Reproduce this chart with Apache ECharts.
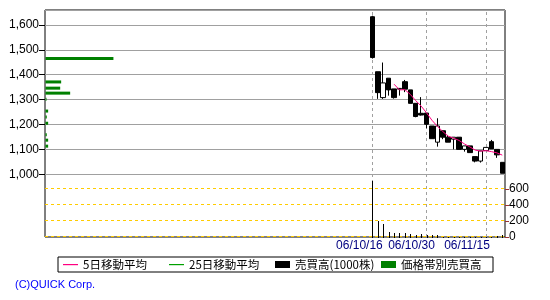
<!DOCTYPE html>
<html><head><meta charset="utf-8">
<script src="https://cdn.jsdelivr.net/npm/echarts@6/dist/echarts.min.js"></script>
<style>html,body{margin:0;padding:0;background:#fff}#c{width:550px;height:300px}</style>
</head><body><div id="c"></div>
<script>
// ---- data ----
const dates  = ['06/10/16','06/10/17','06/10/18','06/10/19','06/10/20','06/10/23','06/10/24','06/10/25','06/10/26','06/10/27',
                '06/10/30','06/10/31','06/11/01','06/11/02','06/11/06','06/11/07','06/11/08','06/11/09','06/11/10','06/11/13',
                '06/11/14','06/11/15','06/11/16','06/11/17','06/11/20'];
const opens  = [1633,1412,1308,1386,1343,1342,1372,1339,1285,1245,1246,1194,1129,1175,1149,1141,1149,1100,1114,1071,1053,1095,1131,1100,1048];
const closes = [1469,1328,1367,1339,1308,1345,1342,1285,1232,1238,1201,1143,1194,1149,1129,1149,1100,1114,1087,1053,1094,1108,1102,1078,1004];
const lows   = [1465,1303,1303,1316,1304,1316,1330,1285,1229,1236,1185,1143,1111,1141,1129,1100,1100,1091,1087,1048,1047,1095,1102,1066,1004];
const highs  = [1637,1412,1449,1386,1343,1346,1379,1339,1285,1310,1246,1194,1225,1175,1158,1149,1149,1114,1114,1071,1094,1108,1138,1100,1048];
const volumes = [694,200,165,58,45,45,45,32,24,32,20,24,24,6,6,4,6,4,4,6,4,6,6,8,24];
const ma5    = [null,null,null,null,1362,1339,1340,1321,1296,1274,1247,1217,1193,1172,1153,1145,1136,1122,1110,1097,1093,1095,1091,1086,1077];
const ma25   = [];
const bandPrices  = [1465,1371,1346,1326,1301,1254,1230,1205,1159,1137,1113];
const bandVolumes = [694,160,150,252,10,27,13,27,13,27,27];
const dateTicks   = ['06/10/16','06/10/30','06/11/15'];
const volumeGuides = [0,200,400,600];
const LEAD_SLOTS  = 60; // empty trading-day slots before the listing date

// ---- build ----
const cats = [];
for (let i = 0; i < LEAD_SLOTS; i++) cats.push('pre' + i);
const allCats = cats.concat(dates);

const candleData = dates.map((d, i) => [d, opens[i], closes[i], lows[i], highs[i]]);
const ma5Data = dates.map((d, i) => [d, ma5[i]]).filter(r => r[1] != null);
const volData = dates.map((d, i) => [d, volumes[i]]);
const bandData = bandPrices.map((p, i) => [bandVolumes[i], p]);
const guideData = volumeGuides.map(v => [allCats[0], v]);

const NARROW = "'Liberation Sans Narrow','Liberation Sans',sans-serif";
const CJK = "'Noto Sans CJK JP',sans-serif";
const labelShift = {'06/10/16':'a','06/10/30':'b','06/11/15':'c'};
const LINE_ICON = 'path://M0,0L0,0M0,3L15,3L15,4.2L0,4.2ZM15,7L15,7';

const chart = echarts.init(document.getElementById('c'), null, {renderer:'canvas', width:550, height:300});
chart.setOption({
  animation: false,
  backgroundColor: '#fff',
  grid: [
    {left:45, right:45, top:10, bottom:63, show:true, borderColor:'#000', borderWidth:1, backgroundColor:'transparent'},
    {left:45, right:45, top:10, height:164.3},
    {left:45, right:45, top:189, bottom:63}
  ],
  xAxis: [
    {gridIndex:0, type:'category', data:allCats, boundaryGap:true, show:false},
    {gridIndex:0, type:'value', min:0, max:4700, show:false},
    {gridIndex:1, type:'category', data:allCats, show:false},
    {gridIndex:2, type:'category', data:allCats, boundaryGap:true,
      axisLine:{show:false}, axisTick:{show:false}, splitLine:{show:false},
      axisLabel:{
        interval:(i, v) => dateTicks.includes(v),
        formatter:(v) => '{' + labelShift[v] + '|' + v + '}',
        margin:3, color:'#000080', fontSize:12, fontFamily:"'Liberation Sans',sans-serif",
        rich:{
          a:{padding:[0,26,0,0], color:'#000080', fontSize:12, fontFamily:"'Liberation Sans',sans-serif"},
          b:{padding:[0,30,0,0], color:'#000080', fontSize:12, fontFamily:"'Liberation Sans',sans-serif"},
          c:{padding:[0,38,0,0], color:'#000080', fontSize:12, fontFamily:"'Liberation Sans',sans-serif"}
        }
      }}
  ],
  yAxis: [
    {gridIndex:0, type:'value', min:748, max:1660, show:false},
    {gridIndex:1, type:'value', min:1000, max:1660, interval:100, position:'left',
      axisLine:{show:false},
      axisTick:{show:true, length:6, lineStyle:{color:'#000', width:1}},
      axisLabel:{showMaxLabel:false, margin:6, color:'#000', fontSize:12, fontFamily:NARROW,
        formatter:(v) => (v % 100 === 0 ? v.toLocaleString('en-US') : '')},
      splitLine:{show:true, lineStyle:{color:'#a0a0a0', width:1}}},
    {gridIndex:2, type:'value', min:0, max:600, interval:200, position:'right',
      axisLine:{show:false},
      axisTick:{show:true, length:4, lineStyle:{color:'#993333', width:1}},
      axisLabel:{margin:4, color:'#000', fontSize:12, fontFamily:NARROW},
      splitLine:{show:false}}
  ],
  legend: {
    left:58, top:257, orient:'horizontal',
    padding:[1,6,1,5], itemGap:0, itemWidth:15, itemHeight:7,
    borderColor:'#000', borderWidth:1, selectedMode:false,
    textStyle:{fontSize:11.5, width:86, lineHeight:13, color:'#000', fontFamily:CJK},
    data:[
      {name:'5日移動平均', icon:LINE_ICON, itemStyle:{color:'#FF0080'}},
      {name:'25日移動平均', icon:LINE_ICON, itemStyle:{color:'#00A000'}},
      {name:'売買高(1000株)', icon:'rect', itemStyle:{color:'#000'}},
      {name:'価格帯別売買高', icon:'rect', itemStyle:{color:'#008000'}}
    ]
  },
  graphic: [
    {type:'text', left:15, top:279, style:{text:'(C)QUICK Corp.', fill:'#0000FF', font:"11px 'Liberation Sans',sans-serif"}}
  ],
  series: [
    {
      name:'volume guides', type:'custom', xAxisIndex:3, yAxisIndex:2, z:5, silent:true,
      data:guideData, encode:{x:0, y:1},
      renderItem:(params, api) => {
        const c = api.coord([api.value(0), api.value(1)]);
        const cs = params.coordSys;
        const y = Math.round(c[1]) - 0.5;
        return {type:'line', shape:{x1:cs.x, y1:y, x2:cs.x + cs.width, y2:y},
                style:{stroke:'#FFCC00', lineWidth:1, lineDash:[3,3], fill:null}};
      }
    },
    {
      name:'株価', type:'candlestick', xAxisIndex:0, yAxisIndex:0, z:3,
      data:candleData, encode:{x:0, y:[1,2,3,4]}, barWidth:5,
      itemStyle:{color:'#fff', color0:'#000', borderColor:'#000', borderColor0:'#000', borderWidth:1}
    },
    {
      name:'5日移動平均', type:'line', xAxisIndex:0, yAxisIndex:0, z:4,
      data:ma5Data, symbol:'none', lineStyle:{color:'#FF0080', width:1}, itemStyle:{color:'#FF0080'}
    },
    {
      name:'25日移動平均', type:'line', xAxisIndex:0, yAxisIndex:0, z:1,
      data:ma25, symbol:'none', lineStyle:{color:'#00A000', width:1}, itemStyle:{color:'#00A000'},
      markLine:{
        silent:true, symbol:['none','none'], z:1, label:{show:false},
        lineStyle:{color:'#a0a0a0', width:1, type:[3,3]},
        data: dateTicks.map(d => ({xAxis:d}))
      }
    },
    {
      name:'売買高(1000株)', type:'custom', xAxisIndex:3, yAxisIndex:2, z:6, silent:true,
      data:volData, encode:{x:0, y:1}, itemStyle:{color:'#000'}, clip:false,
      renderItem:(params, api) => {
        const top = api.coord([api.value(0), api.value(1)]);
        const base = api.coord([api.value(0), 0]);
        const x = Math.round(top[0]);
        const yTop = Math.round(top[1]);
        const h = Math.round(base[1]) + 1 - yTop;
        return {type:'rect', shape:{x:x, y:yTop, width:1, height:Math.max(0, h)}, style:{fill:'#000'}};
      }
    },
    {
      name:'価格帯別売買高', type:'custom', xAxisIndex:1, yAxisIndex:0, z:3,
      data:bandData, encode:{x:0, y:1}, itemStyle:{color:'#008000'},
      renderItem:(params, api) => {
        const a = api.coord([0, api.value(1)]);
        const b = api.coord([api.value(0), api.value(1)]);
        return {type:'rect', shape:{x:a[0]+0.5, y:a[1]-1.5, width:Math.max(1, b[0]-a[0]), height:3}, style:{fill:'#008000'}};
      }
    }
  ]
});
</script></body></html>
